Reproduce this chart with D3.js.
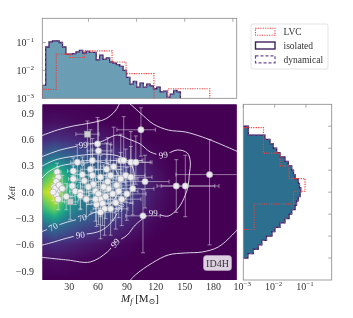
<!DOCTYPE html>
<html>
<head>
<meta charset="utf-8">
<script src="https://d3js.org/d3.v7.min.js"></script>
<style>
  body { margin: 0; background: #fff; }
  svg text { font-family: "Liberation Serif", "DejaVu Serif", serif; }
</style>
</head>
<body>
<svg id="chart" width="353" height="318"></svg>
<script>
// ---- data ----
// top histogram of final mass, bins of 3.5 Msun starting at 2
var massBinStart = 2, massBinWidth = 3.5;
var massIsolated = [0.0029,0.069,0.105,0.115,0.115,0.1,0.069,0.038,0.038,0.04,0.046,0.052,0.042,0.048,0.044,0.044,
  0.024,0.035,0.025,0.028,0.02,0.018,0.016,0.014,0.01,0.0056,0.0032,0.004,0.0025,0.0035,0.0025,0.0032,0.0028,
  0.0022,0.0025,0.0017,0.0018,0.0011,0.0014,0.0019,0.0017];
// dynamical channel overlaps the isolated one almost everywhere
var massDynamical = massIsolated;
// LVC histogram, bins of 14.5 Msun
var massLVCStart = 2, massLVCWidth = 14.5;
var massLVC = [0.0021,0.038,0.029,0.05,0.05,0.02,0.0076,0.0076,0,0.0022,0.0022,0.0022];

// side histogram of chi_eff, bins of 0.05 from 0.75 down
var chiBinTop = 0.75, chiBinWidth = 0.05;
var chiIsolated = [0.00145,0.00145,0.0049,0.0071,0.0091,0.0116,0.0148,0.0213,0.0272,0.035,0.040,0.045,0.057,0.062,
  0.068,0.065,0.057,0.05,0.045,0.035,0.029,0.0213,0.0148,0.0102,0.0082,0.0055,0.0039,0.003,0.0021,0.0014];
var chiDynamical = chiIsolated;
var chiLVCEdges = [0.735,0.59,0.445,0.30,0.155,0.01,-0.135,-0.28,-0.425];
var chiLVC = [0.0044,0.0044,0.0148,0.029,0.093,0.04,0.0022,0.0022];

// density map on a coarse grid (viridis fraction), rows from chi=1 to chi=-1
var gridMass = [0,15,30,45,60,75,90,105,120,135,150,165,180,195,210];
var gridChi = [1,0.8,0.6,0.4,0.2,0,-0.2,-0.4,-0.6,-0.8,-1];
var density = [
  [0,0,0,0,0,0,0,0,0,0,0,0,0,0,0],
  [0.03,0.04,0.03,0.02,0.01,0,0,0,0,0,0,0,0,0,0],
  [0.12,0.14,0.12,0.1,0.08,0.05,0.03,0.01,0,0,0,0,0,0,0],
  [0.3,0.38,0.32,0.27,0.22,0.17,0.11,0.06,0.02,0,0,0,0,0,0],
  [0.62,0.8,0.55,0.42,0.35,0.28,0.2,0.11,0.05,0.01,0,0,0,0,0],
  [0.85,1.0,0.62,0.46,0.39,0.31,0.22,0.13,0.06,0.02,0,0,0,0,0],
  [0.62,0.78,0.5,0.38,0.31,0.24,0.16,0.09,0.04,0.01,0,0,0,0,0],
  [0.3,0.36,0.28,0.22,0.18,0.13,0.08,0.04,0.01,0,0,0,0,0,0],
  [0.1,0.12,0.1,0.07,0.05,0.03,0.015,0,0,0,0,0,0,0,0],
  [0.02,0.03,0.02,0.01,0,0,0,0,0,0,0,0,0,0,0],
  [0,0,0,0,0,0,0,0,0,0,0,0,0,0,0]
];

// credible-region contours [mass, chi]
var contourOuterTop = [[-2,0.628],[17.5,0.707],[34.2,0.753],[51.8,0.787],[67.4,0.832],[77.8,0.924],[84.1,1.03],
  [89.3,1.03],[103.8,0.901],[117.3,0.776],[132.9,0.707],[150.6,0.685],[168.3,0.628],[181.8,0.571],[206,0.457]];
var contourOuterBottom = [[91.3,-1.03],[98.6,-0.943],[116.3,-0.806],[132.9,-0.715],[150.6,-0.692],[168.3,-0.681],
  [184.9,-0.624],[199.4,-0.488],[206,-0.408]];
var contour99 = [[-2,0.389],[20.6,0.48],[34.2,0.514],[44.6,0.537],[62.2,0.571],[79.9,0.65],[91.3,0.605],[103.8,0.548],
  [114.2,0.457],[127.7,0.423],[142.3,0.48],[152.7,0.446],[155.8,0.343],[154.7,0.195],[153.7,0.081],[150.6,-0.033],
  [143.3,-0.181],[132.9,-0.272],[124.6,-0.26],[117.3,-0.237],[109,-0.283],[98.6,-0.374],[90.3,-0.488],[77.8,-0.579],
  [69.5,-0.682],[51.8,-0.795],[27.9,-0.772],[-2,-0.738]];
var contour90 = [[-2,0.275],[15.4,0.366],[36.2,0.411],[62.2,0.434],[80.9,0.411],[93.4,0.332],[97.6,0.195],[94.5,0.024],
  [87.2,-0.089],[83,-0.169],[75.7,-0.317],[67.4,-0.408],[59.1,-0.454],[41.4,-0.488],[27.9,-0.522],[10.2,-0.579],[-2,-0.613]];
var contour70 = [[-2,0.116],[8.2,0.229],[20.6,0.298],[41.4,0.332],[62.2,0.343],[74.7,0.298],[80.9,0.195],[82,0.047],
  [77.8,-0.067],[69.5,-0.169],[54.9,-0.237],[43.5,-0.294],[27.9,-0.34],[13.4,-0.397],[-2,-0.465]];
// [text, mass, chi, angle]
var contourLabels = [['99',44.6,0.537,-5],['99',127.7,0.423,-12],['99',117.3,-0.237,0],['99',77.8,-0.579,-50],
  ['90',41.4,-0.488,-8],['90',83,-0.169,-65],['70',41.4,0.332,0],['70',43.5,-0.294,-15],['70',13.4,-0.397,-30]];

// events: [mass, -err, +err, chi, -err, +err, marker]
var events = [
  [17.4,3,4,0.23,0.12,0.1,'o'],[18.5,3,3,0.17,0.1,0.12,'o'],[16.4,2,3,0.12,0.08,0.1,'o'],[14.3,3,4,0.06,0.1,0.1,'o'],
  [17.4,2,3,0.01,0.08,0.08,'o'],[16.4,3,3,-0.03,0.1,0.1,'o'],[18.5,3,4,-0.08,0.12,0.1,'o'],[15.3,2,2,0.04,0.06,0.06,'o'],
  [13.2,2,3,0.0,0.1,0.1,'o'],[19.5,3,4,0.08,0.1,0.12,'o'],[34.2,6,8,0.24,0.15,0.15,'o'],[34.2,5,7,0.15,0.12,0.15,'o'],
  [33.1,5,6,0.07,0.12,0.12,'o'],[36.3,6,8,0.01,0.15,0.2,'o'],[41.5,7,9,0.0,0.2,0.2,'o'],[31,6,8,-0.11,0.2,0.2,'s'],
  [41.5,6,10,-0.04,0.15,0.15,'o'],[47.8,8,12,-0.08,0.2,0.2,'o'],[52,10,14,0.26,0.25,0.45,'o'],[54,10,15,0.19,0.2,0.3,'o'],
  [55,8,12,0.09,0.2,0.2,'o'],[57.3,9,12,0.01,0.2,0.25,'o'],[60.4,10,15,-0.02,0.35,0.2,'o'],[62.5,10,15,-0.08,0.2,0.25,'o'],
  [64.6,12,16,-0.13,0.25,0.25,'o'],[66.7,12,18,-0.19,0.3,0.3,'o'],[69.9,12,18,0.12,0.25,0.5,'o'],[73,12,20,0.19,0.3,0.35,'o'],
  [76.2,14,20,0.29,0.3,0.45,'o'],[83.5,15,22,0.36,0.3,0.3,'o'],[86.6,14,20,0.36,0.25,0.5,'o'],[94,15,22,0.34,0.3,0.35,'o'],
  [99.2,12,15,0.34,0.25,0.3,'o'],[88.7,14,20,0.19,0.3,0.3,'o'],[94,15,22,0.17,0.3,0.35,'o'],[38.4,7,10,0.34,0.2,0.2,'o'],
  [54,10,14,0.36,0.3,0.25,'o'],[59.4,10,14,0.55,0.3,0.3,'o'],[48.9,12,12,0.66,0.3,0.15,'s'],[60.4,12,14,0.47,0.35,0.35,'o'],
  [104.5,25,15,0.71,0.3,0.25,'o'],[175.8,35,30,0.2,0.8,0.4,'o'],[141.2,20,40,0.07,0.3,0.3,'o'],[150.6,25,35,0.07,0.35,0.35,'o'],
  [108.7,20,25,0.12,0.3,0.3,'o'],[106.6,18,18,-0.27,0.42,0.3,'o'],[70.9,12,16,0.04,0.25,0.3,'o'],[75.1,12,18,-0.02,0.3,0.3,'o'],
  [79.3,14,18,0.08,0.3,0.3,'o'],[81.4,15,20,0.01,0.3,0.25,'o'],[67.8,12,16,-0.05,0.25,0.25,'o'],[58.3,10,14,-0.14,0.25,0.25,'o'],
  [62.5,10,15,-0.23,0.3,0.25,'o'],[49.9,8,12,0.06,0.2,0.2,'o'],[45.7,8,10,0.13,0.2,0.2,'o'],[65.7,10,15,0.06,0.2,0.25,'o'],
  [84.5,15,20,-0.08,0.3,0.3,'o'],[89.8,15,20,-0.02,0.3,0.3,'o'],[78.3,14,18,-0.12,0.3,0.3,'o'],[73,12,18,-0.19,0.3,0.3,'o'],
  [43.6,8,10,0.2,0.2,0.2,'o'],[62.5,10,14,0.17,0.25,0.25,'o'],[68.8,12,16,0.26,0.25,0.3,'o'],[83.5,14,18,0.15,0.3,0.3,'o'],
  [57.3,10,14,-0.08,0.25,0.25,'o'],[22.7,4,5,0.04,0.15,0.15,'o'],[26.9,4,6,-0.05,0.15,0.15,'o'],[96,15,22,0.04,0.3,0.3,'o']
];

var massTicks = [30,60,90,120,150,180];
var chiTicks = [-0.9,-0.6,-0.3,0,0.3,0.6,0.9];
var logTicks = [1e-3,1e-2,1e-1];

// ---- layout ----
var svg = d3.select('#chart');
var main = {left: 42.3, right: 236.7, top: 104.3, bottom: 280};
var topP = {left: 42.3, right: 236.7, top: 18.3, bottom: 98.3};
var side = {left: 243.3, right: 331.7, top: 104.3, bottom: 280};

var x = d3.scaleLinear().domain([2, 204]).range([main.left, main.right]);
var y = d3.scaleLinear().domain([-1, 1]).range([main.bottom, main.top]);
var yTop = d3.scaleLog().domain([1e-3, 0.735]).range([topP.bottom, topP.top]);
var xSide = d3.scaleLog().domain([1e-3, 0.66]).range([side.left, side.right]);

var defs = svg.append('defs');
function clip(id, p) {
  defs.append('clipPath').attr('id', id).append('rect')
    .attr('x', p.left).attr('y', p.top).attr('width', p.right - p.left).attr('height', p.bottom - p.top);
}
clip('clipMain', main); clip('clipTop', topP); clip('clipSide', side);

function supLabel(sel, txt) {
  sel.append('tspan').text('10');
  sel.append('tspan').attr('dy', -4).attr('font-size', 7).text(txt);
}

// ---- main panel: density ----
var gMain = svg.append('g').attr('clip-path', 'url(#clipMain)');
gMain.append('rect').attr('x', main.left).attr('y', main.top)
  .attr('width', main.right - main.left).attr('height', main.bottom - main.top).attr('fill', '#440154');

var W = Math.ceil(main.right - main.left), H = Math.ceil(main.bottom - main.top);
var canvas = document.createElement('canvas');
canvas.width = W; canvas.height = H;
var ctx = canvas.getContext('2d');
var img = ctx.createImageData(W, H);
var mStep = gridMass[1] - gridMass[0], cStep = gridChi[0] - gridChi[1];
for (var j = 0; j < H; j++) {
  var cv = y.invert(main.top + j + 0.5);
  var fy = Math.max(0, Math.min(gridChi.length - 1.0001, (gridChi[0] - cv) / cStep));
  var r0 = Math.floor(fy), ty = fy - r0;
  for (var i = 0; i < W; i++) {
    var mv = x.invert(main.left + i + 0.5);
    var fx = Math.max(0, Math.min(gridMass.length - 1.0001, (mv - gridMass[0]) / mStep));
    var c0 = Math.floor(fx), tx = fx - c0;
    var v = density[r0][c0] * (1 - tx) * (1 - ty) + density[r0][c0 + 1] * tx * (1 - ty)
          + density[r0 + 1][c0] * (1 - tx) * ty + density[r0 + 1][c0 + 1] * tx * ty;
    var col = d3.rgb(d3.interpolateViridis(v));
    var k = (j * W + i) * 4;
    img.data[k] = col.r; img.data[k + 1] = col.g; img.data[k + 2] = col.b; img.data[k + 3] = 255;
  }
}
ctx.putImageData(img, 0, 0);
gMain.append('image').attr('x', main.left).attr('y', main.top).attr('width', W).attr('height', H)
  .attr('preserveAspectRatio', 'none').attr('href', canvas.toDataURL());

// ---- contours ----
var mask = defs.append('mask').attr('id', 'lblMask').attr('maskUnits', 'userSpaceOnUse')
  .attr('x', 0).attr('y', 0).attr('width', 353).attr('height', 318);
mask.append('rect').attr('width', 353).attr('height', 318).attr('fill', 'white');
contourLabels.forEach(function(d) {
  mask.append('rect').attr('x', -6.5).attr('y', -4.5).attr('width', 13).attr('height', 9).attr('fill', 'black')
    .attr('transform', 'translate(' + x(d[1]) + ',' + y(d[2]) + ') rotate(' + d[3] + ')');
});
var cLine = d3.line().x(function(d) { return x(d[0]); }).y(function(d) { return y(d[1]); })
  .curve(d3.curveCatmullRom.alpha(0.5));
var gCont = gMain.append('g').attr('mask', 'url(#lblMask)');
[contourOuterTop, contourOuterBottom, contour99, contour90, contour70].forEach(function(c) {
  gCont.append('path').attr('d', cLine(c)).attr('fill', 'none')
    .attr('stroke', '#eae8f2').attr('stroke-width', 1).attr('opacity', 0.9);
});
contourLabels.forEach(function(d) {
  gMain.append('text').attr('text-anchor', 'middle').attr('dy', '0.33em')
    .attr('transform', 'translate(' + x(d[1]) + ',' + y(d[2]) + ') rotate(' + d[3] + ')')
    .attr('font-size', 9).attr('fill', '#eae8f2').text(d[0]);
});

// ---- events with error bars ----
var gErr = gMain.append('g').attr('stroke', 'rgba(235,235,242,0.55)').attr('stroke-width', 0.9);
events.forEach(function(e) {
  var cx = x(e[0]), cy = y(e[3]);
  var xl = x(e[0] - e[1]), xr = x(e[0] + e[2]), yb = y(e[3] - e[4]), yt = y(e[3] + e[5]);
  gErr.append('line').attr('x1', xl).attr('x2', xr).attr('y1', cy).attr('y2', cy);
  gErr.append('line').attr('x1', cx).attr('x2', cx).attr('y1', yb).attr('y2', yt);
  gErr.append('line').attr('x1', xl).attr('x2', xl).attr('y1', cy - 2).attr('y2', cy + 2);
  gErr.append('line').attr('x1', xr).attr('x2', xr).attr('y1', cy - 2).attr('y2', cy + 2);
  gErr.append('line').attr('x1', cx - 2).attr('x2', cx + 2).attr('y1', yb).attr('y2', yb);
  gErr.append('line').attr('x1', cx - 2).attr('x2', cx + 2).attr('y1', yt).attr('y2', yt);
});
events.forEach(function(e) {
  var cx = x(e[0]), cy = y(e[3]);
  if (e[6] === 's') {
    gMain.append('rect').attr('x', cx - 3).attr('y', cy - 3).attr('width', 6).attr('height', 6)
      .attr('fill', '#cdcdd2').attr('stroke', '#9a9aa0').attr('stroke-width', 0.6);
  } else {
    gMain.append('circle').attr('cx', cx).attr('cy', cy).attr('r', 3.2)
      .attr('fill', '#f2f2f4').attr('stroke', '#a0a0a8').attr('stroke-width', 0.6).attr('opacity', 0.95);
  }
});

// model tag
svg.append('rect').attr('x', 203.5).attr('y', 255.5).attr('width', 28).attr('height', 15).attr('rx', 3)
  .attr('fill', '#ddd0e0').attr('stroke', '#b8a8c0').attr('stroke-width', 0.6);
svg.append('text').attr('x', 217.5).attr('y', 266.5).attr('text-anchor', 'middle')
  .attr('font-size', 10).attr('fill', '#333').text('ID4H');

// main axes labels
massTicks.forEach(function(t) {
  svg.append('text').attr('x', x(t)).attr('y', 290).attr('text-anchor', 'middle')
    .attr('font-size', 10).attr('fill', '#333').text(t);
});
chiTicks.forEach(function(t) {
  svg.append('text').attr('x', 34).attr('y', y(t) + 3.5).attr('text-anchor', 'end')
    .attr('font-size', 10).attr('fill', '#333').text(d3.format('.1f')(t).replace('-', '\u2212'));
});
var xl = svg.append('text').attr('x', 140).attr('y', 302).attr('text-anchor', 'middle')
  .attr('font-size', 11).attr('fill', '#222');
xl.append('tspan').attr('font-style', 'italic').text('M');
xl.append('tspan').attr('font-style', 'italic').attr('font-size', 8).attr('dy', 2).text('f');
xl.append('tspan').attr('dy', -2).text(' [M');
xl.append('tspan').attr('font-size', 8).attr('dy', 2).text('\u2299');
xl.append('tspan').attr('dy', -2).text(']');
var yl = svg.append('text').attr('transform', 'translate(13,193) rotate(-90)').attr('text-anchor', 'middle')
  .attr('font-size', 11).attr('fill', '#222');
yl.append('tspan').text('\u03c7');
yl.append('tspan').attr('font-size', 8).attr('dy', 2).text('eff');

// ---- histogram helpers ----
function stepPath(edges, vals, pos, val, base, vertical) {
  var pts = [];
  var b = base;
  vertical ? pts.push([b, pos(edges[0])]) : pts.push([pos(edges[0]), b]);
  vals.forEach(function(v, k) {
    var vv = val(Math.max(v, 1e-5));
    if (vertical) { pts.push([vv, pos(edges[k])]); pts.push([vv, pos(edges[k + 1])]); }
    else { pts.push([pos(edges[k]), vv]); pts.push([pos(edges[k + 1]), vv]); }
  });
  vertical ? pts.push([b, pos(edges[edges.length - 1])]) : pts.push([pos(edges[edges.length - 1]), b]);
  return d3.line()(pts);
}

// ---- top histogram ----
var massEdges = d3.range(massIsolated.length + 1).map(function(k) { return massBinStart + k * massBinWidth; });
var massLVCEdges = d3.range(massLVC.length + 1).map(function(k) { return massLVCStart + k * massLVCWidth; });
var gTop = svg.append('g').attr('clip-path', 'url(#clipTop)');
gTop.append('path').attr('d', stepPath(massEdges, massIsolated, x, yTop, topP.bottom + 2, false))
  .attr('fill', '#6b9db4');
gTop.append('path').attr('d', stepPath(massEdges, massIsolated, x, yTop, topP.bottom + 2, false))
  .attr('fill', 'none').attr('stroke', '#40215f').attr('stroke-width', 1.3);
gTop.append('path').attr('d', stepPath(massEdges, massDynamical, x, yTop, topP.bottom + 2, false))
  .attr('fill', 'none').attr('stroke', '#7a5aa0').attr('stroke-width', 1).attr('stroke-dasharray', '3,2');
gTop.append('path').attr('d', stepPath(massLVCEdges, massLVC, x, yTop, topP.bottom + 2, false))
  .attr('fill', 'none').attr('stroke', '#f0413c').attr('stroke-width', 1.2).attr('stroke-dasharray', '1.2,1.2');
svg.append('rect').attr('x', topP.left).attr('y', topP.top).attr('width', topP.right - topP.left)
  .attr('height', topP.bottom - topP.top).attr('fill', 'none').attr('stroke', '#888').attr('stroke-width', 0.8);
logTicks.forEach(function(t) {
  svg.append('line').attr('x1', topP.left).attr('x2', topP.left + 3.5).attr('y1', yTop(t)).attr('y2', yTop(t))
    .attr('stroke', '#888').attr('stroke-width', 0.7);
  supLabel(svg.append('text').attr('x', 34).attr('y', yTop(t) + 3.5).attr('text-anchor', 'end')
    .attr('font-size', 10).attr('fill', '#333'), '\u2212' + (-Math.log10(t)));
});
[50, 100, 150, 200].forEach(function(t) {
  svg.append('line').attr('x1', x(t)).attr('x2', x(t)).attr('y1', topP.top).attr('y2', topP.top + 3.5)
    .attr('stroke', '#888').attr('stroke-width', 0.7);
});

// ---- side histogram ----
var chiEdges = d3.range(chiIsolated.length + 1).map(function(k) { return chiBinTop - k * chiBinWidth; });
var gSide = svg.append('g').attr('clip-path', 'url(#clipSide)');
gSide.append('path').attr('d', stepPath(chiEdges, chiIsolated, y, xSide, side.left - 2, true))
  .attr('fill', '#2d6f8e');
gSide.append('path').attr('d', stepPath(chiEdges, chiIsolated, y, xSide, side.left - 2, true))
  .attr('fill', 'none').attr('stroke', '#40215f').attr('stroke-width', 1.3);
gSide.append('path').attr('d', stepPath(chiEdges, chiDynamical, y, xSide, side.left - 2, true))
  .attr('fill', 'none').attr('stroke', '#7a5aa0').attr('stroke-width', 1).attr('stroke-dasharray', '3,2');
gSide.append('path').attr('d', stepPath(chiLVCEdges, chiLVC, y, xSide, side.left - 2, true))
  .attr('fill', 'none').attr('stroke', '#f0413c').attr('stroke-width', 1.2).attr('stroke-dasharray', '1.2,1.2');
svg.append('rect').attr('x', side.left).attr('y', side.top).attr('width', side.right - side.left)
  .attr('height', side.bottom - side.top).attr('fill', 'none').attr('stroke', '#888').attr('stroke-width', 0.8);
[-0.75, -0.5, -0.25, 0, 0.25, 0.5, 0.75].forEach(function(t) {
  svg.append('line').attr('x1', side.right - 3.5).attr('x2', side.right).attr('y1', y(t)).attr('y2', y(t))
    .attr('stroke', '#888').attr('stroke-width', 0.7);
});
logTicks.forEach(function(t) {
  svg.append('line').attr('x1', xSide(t)).attr('x2', xSide(t)).attr('y1', side.top).attr('y2', side.top + 3.5)
    .attr('stroke', '#888').attr('stroke-width', 0.7);
  supLabel(svg.append('text').attr('x', xSide(t) - 1).attr('y', 290).attr('text-anchor', 'middle')
    .attr('font-size', 10).attr('fill', '#333'), '\u2212' + (-Math.log10(t)));
});

// ---- legend ----
var lg = svg.append('g');
lg.append('rect').attr('x', 251).attr('y', 24).attr('width', 77).attr('height', 45).attr('rx', 2)
  .attr('fill', '#fff').attr('stroke', '#dcdcdc').attr('stroke-width', 0.8);
var legendItems = [
  {name: 'LVC', stroke: '#f0413c', dash: '1.2,1.2', w: 1.1},
  {name: 'isolated', stroke: '#40215f', dash: null, w: 1.4},
  {name: 'dynamical', stroke: '#6a4a94', dash: '3,2', w: 1.2}
];
legendItems.forEach(function(d, k) {
  var cy = 31.7 + k * 13.8;
  lg.append('rect').attr('x', 255.5).attr('y', cy - 3.5).attr('width', 19.5).attr('height', 7)
    .attr('fill', 'none').attr('stroke', d.stroke).attr('stroke-width', d.w).attr('stroke-dasharray', d.dash);
  lg.append('text').attr('x', 283.5).attr('y', cy + 3.3).attr('font-size', 9.5).attr('fill', '#333').text(d.name);
});
</script>
</body>
</html>
